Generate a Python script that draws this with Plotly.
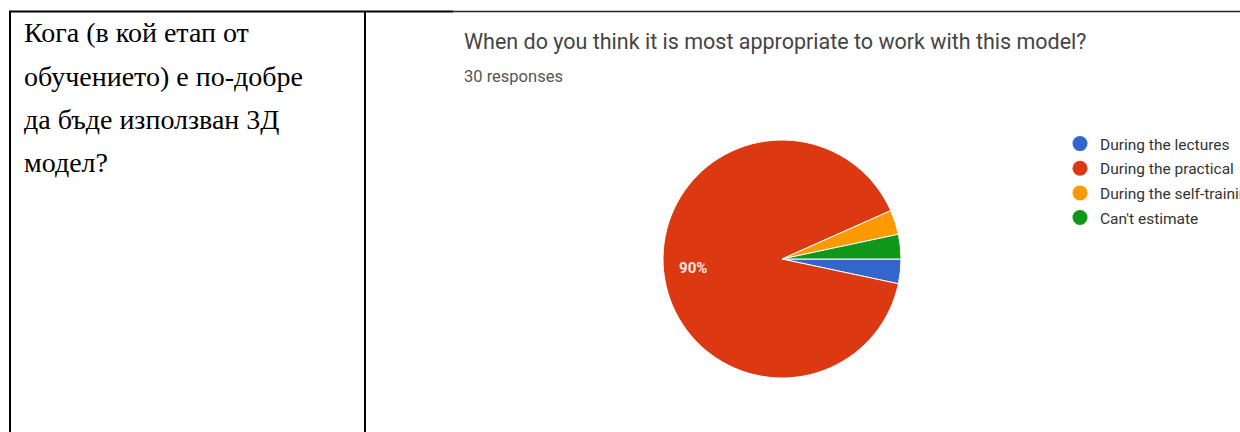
import plotly.graph_objects as go

W, H = 1240, 432

# table text (left cell)
question_lines = ["Кога (в кой етап от", "обучението) е по-добре", "да бъде използван 3Д", "модел?"]

# google forms chart
chart_title = "When do you think it is most appropriate to work with this model?"
responses_text = "30 responses"
categories = ["During the lectures", "During the practical", "During the self-training", "Can't estimate"]
counts = [1, 27, 1, 1]
colors = ["#3366cc", "#dc3912", "#ff9900", "#109618"]
slice_text = ["", "<b>90%</b>", "", ""]


def px(x):
    return x / W


def py(y):
    return 1 - y / H


pie_domain = dict(x=[px(663), px(901)], y=[py(378), py(140)])

fig = go.Figure()

# the pie itself
fig.add_trace(go.Pie(
    labels=categories,
    values=counts,
    marker=dict(colors=colors, line=dict(color="white", width=1)),
    sort=False,
    direction="clockwise",
    rotation=90,
    textinfo="none",
    showlegend=False,
    hoverinfo="label+percent",
    domain=pie_domain,
))

# transparent ring on top, only carries the percent label (pushes it outward like google charts)
fig.add_trace(go.Pie(
    labels=categories,
    values=counts,
    marker=dict(colors=["rgba(0,0,0,0)"] * len(categories), line=dict(width=0)),
    hole=0.5,
    sort=False,
    direction="clockwise",
    rotation=90,
    text=slice_text,
    textinfo="text",
    textposition="inside",
    insidetextorientation="horizontal",
    textfont=dict(family="Roboto, Arial", size=15, color="#fbe9e3"),
    showlegend=False,
    hoverinfo="label+percent",
    domain=pie_domain,
))

# circle legend entries
for name, col in zip(categories, colors):
    fig.add_trace(go.Scatter(
        x=[None], y=[None], mode="markers", name=name, legendgroup=name,
        marker=dict(symbol="circle", size=15, color=col),
        showlegend=True,
    ))

fig.update_xaxes(visible=False)
fig.update_yaxes(visible=False)

shapes = [
    dict(type="line", xref="paper", yref="paper", x0=px(9), x1=px(453), y0=py(11.5), y1=py(11.5),
         line=dict(color="black", width=2)),
    dict(type="line", xref="paper", yref="paper", x0=px(453), x1=1, y0=py(11.5), y1=py(11.5),
         line=dict(color="#222222", width=1.5)),
    dict(type="line", xref="paper", yref="paper", x0=px(10), x1=px(10), y0=py(11), y1=0,
         line=dict(color="black", width=2)),
    dict(type="line", xref="paper", yref="paper", x0=px(365), x1=px(365), y0=py(11), y1=0,
         line=dict(color="black", width=2)),
]

annotations = []
for i, line in enumerate(question_lines):
    annotations.append(dict(
        text=line, xref="paper", yref="paper", x=px(22), y=py(33 + 43.3 * i),
        xanchor="left", yanchor="middle", showarrow=False,
        font=dict(family="Liberation Serif, Times New Roman, serif", size=28, color="black"),
    ))

annotations.append(dict(
    text=chart_title, xref="paper", yref="paper", x=px(462), y=py(42),
    xanchor="left", yanchor="middle", showarrow=False,
    font=dict(family="Roboto, Arial", size=21.5, color="#444444"),
))
annotations.append(dict(
    text=responses_text, xref="paper", yref="paper", x=px(462), y=py(77),
    xanchor="left", yanchor="middle", showarrow=False,
    font=dict(family="Roboto, Arial", size=16.5, color="#555555"),
))

fig.update_layout(
    width=W, height=H,
    margin=dict(l=0, r=0, t=0, b=0, autoexpand=False),
    paper_bgcolor="white",
    plot_bgcolor="white",
    shapes=shapes,
    annotations=annotations,
    legend=dict(
        x=px(1060), y=py(127), xanchor="left", yanchor="top",
        font=dict(family="Roboto, Arial", size=15.5, color="#333333"),
        itemwidth=30, bgcolor="rgba(0,0,0,0)", tracegroupgap=1.5,
    ),
)

fig.write_html("out.html", config={"displayModeBar": False},
               post_script="document.body.style.margin='0';")
